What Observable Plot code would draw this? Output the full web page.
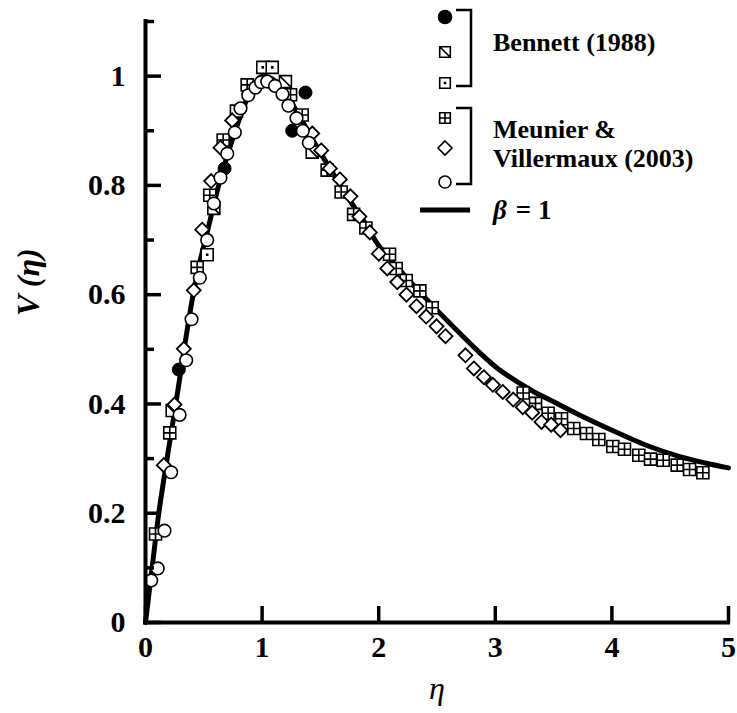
<!DOCTYPE html>
<html><head><meta charset="utf-8">
<script src="https://cdn.jsdelivr.net/npm/d3@7"></script>
<script src="https://cdn.jsdelivr.net/npm/@observablehq/plot@0.6"></script>
<style>
body{margin:0;background:#fff}
#wrap{position:relative;width:737px;height:713px}
#legend{position:absolute;left:0;top:0;pointer-events:none}
</style>
</head><body><div id="wrap"></div>
<script>
// ---- data ----
const curveEta = [0, 0.05, 0.114, 0.2, 0.26, 0.343, 0.4, 0.45, 0.53, 0.64, 0.77, 0.88, 0.95, 1.0, 1.05, 1.12, 1.2, 1.35, 1.5, 1.73, 1.87, 2.0, 2.16, 2.44, 2.73, 2.87, 3.02, 3.3, 3.5, 3.73, 4.02, 4.3, 4.59, 4.8, 5.0];
const curveV   = [0, 0.088, 0.2, 0.32, 0.4, 0.516, 0.59, 0.645, 0.715, 0.81, 0.9, 0.963, 0.99, 1.0, 0.998, 0.99, 0.97, 0.915, 0.86, 0.78, 0.735, 0.69, 0.65, 0.585, 0.522, 0.493, 0.465, 0.426, 0.404, 0.379, 0.35, 0.324, 0.303, 0.292, 0.283];

const bennettFilledEta = [0.286, 0.678, 1.258, 1.372];
const bennettFilledV   = [0.463, 0.831, 0.900, 0.970];
const bennettDiagEta = [0.229, 0.586, 1.200, 1.430];
const bennettDiagV   = [0.388, 0.758, 0.990, 0.861];
const bennettDotEta = [0.529, 0.780, 1.006, 1.087];
const bennettDotV   = [0.673, 0.936, 1.016, 1.016];

const meunierCrossEta = [0.086, 0.208, 0.443, 0.551, 0.666, 0.872, 1.244, 1.344, 1.558, 1.678, 1.785, 1.89, 2.093, 2.150, 2.236, 2.353, 2.459, 3.239, 3.345, 3.453, 3.568, 3.673, 3.782, 3.888, 4.008, 4.108, 4.231, 4.331, 4.440, 4.560, 4.666, 4.780];
const meunierCrossV   = [0.162, 0.347, 0.650, 0.782, 0.883, 0.984, 0.966, 0.929, 0.828, 0.788, 0.747, 0.722, 0.674, 0.648, 0.626, 0.607, 0.576, 0.420, 0.401, 0.383, 0.373, 0.355, 0.346, 0.335, 0.322, 0.317, 0.306, 0.299, 0.297, 0.288, 0.280, 0.274];
const meunierDiamondEta = [0.157, 0.249, 0.329, 0.414, 0.486, 0.563, 0.643, 0.743, 1.430, 1.507, 1.581, 1.667, 1.758, 1.835, 1.924, 2.001, 2.073, 2.159, 2.238, 2.324, 2.407, 2.496, 2.573, 2.744, 2.816, 2.902, 2.979, 3.064, 3.154, 3.236, 3.316, 3.396, 3.479, 3.559];
const meunierDiamondV   = [0.288, 0.399, 0.501, 0.608, 0.719, 0.808, 0.869, 0.919, 0.895, 0.864, 0.831, 0.811, 0.780, 0.743, 0.714, 0.675, 0.648, 0.623, 0.600, 0.579, 0.560, 0.542, 0.524, 0.489, 0.465, 0.449, 0.435, 0.422, 0.408, 0.394, 0.384, 0.367, 0.362, 0.352];
const meunierCircleEta = [0.049, 0.105, 0.163, 0.220, 0.292, 0.349, 0.395, 0.466, 0.529, 0.586, 0.643, 0.701, 0.766, 0.815, 0.881, 0.943, 0.991, 1.044, 1.111, 1.175, 1.226, 1.295, 1.349, 1.401];
const meunierCircleV   = [0.077, 0.099, 0.168, 0.275, 0.380, 0.480, 0.555, 0.631, 0.700, 0.767, 0.814, 0.858, 0.897, 0.941, 0.965, 0.979, 0.989, 0.990, 0.982, 0.967, 0.946, 0.923, 0.900, 0.878];

const xTicks = [0, 1, 2, 3, 4, 5];
const yMajorTicks = [0, 0.2, 0.4, 0.6, 0.8, 1];
const yMinorTicks = [0.1, 0.3, 0.5, 0.7, 0.9, 1.1];
const xTickLabels = ["0", "1", "2", "3", "4", "5"];
const yTickLabels = ["0", "0.2", "0.4", "0.6", "0.8", "1"];

const legendBennett = "Bennett (1988)";
const legendMeunier = ["Meunier &", "Villermaux (2003)"];
const legendCurve = "= 1";

// ---- helpers ----
const zip = (xs, ys) => xs.map((x, i) => ({x, y: ys[i]}));
const curve = zip(curveEta, curveV);

const rOf = size => Math.sqrt(size / Math.PI);
const symSquareDot = {draw(c, size) { const r = rOf(size); c.moveTo(-r,-r); c.lineTo(r,-r); c.lineTo(r,r); c.lineTo(-r,r); c.closePath();
  const d = 0.5; c.moveTo(-d,-d); c.lineTo(d,-d); c.lineTo(d,d); c.lineTo(-d,d); c.closePath(); }};
const symSquareDiag = {draw(c, size) { const r = rOf(size); c.moveTo(-r,-r); c.lineTo(r,-r); c.lineTo(r,r); c.lineTo(-r,r); c.closePath();
  c.moveTo(-r,-r); c.lineTo(r,r); }};
const symSquareCross = {draw(c, size) { const r = rOf(size); c.moveTo(-r,-r); c.lineTo(r,-r); c.lineTo(r,r); c.lineTo(-r,r); c.closePath();
  c.moveTo(0,-r); c.lineTo(0,r); c.moveTo(-r,0); c.lineTo(r,0); }};
const symDiamond = {draw(c, size) { const r = rOf(size); c.moveTo(0,-r); c.lineTo(r,0); c.lineTo(0,r); c.lineTo(-r,0); c.closePath(); }};
const symCircle = {draw(c, size) { const r = rOf(size); c.moveTo(r,0); c.arc(0,0,r,0,2*Math.PI); c.closePath(); }};

const font = "'Liberation Serif', 'Times New Roman', serif";

const plot = Plot.plot({
  width: 737, height: 713,
  marginLeft: 145, marginRight: 9, marginTop: 21, marginBottom: 91,
  x: {domain: [0, 5], axis: null},
  y: {domain: [0, 1.1], axis: null},
  style: {fontFamily: font, color: "black", background: "white", overflow: "visible"},
  marks: [
    Plot.line(curve, {x: "x", y: "y", curve: "catmull-rom", stroke: "black", strokeWidth: 5}),
    Plot.dot(zip(bennettFilledEta, bennettFilledV), {x: "x", y: "y", r: 6.5, fill: "black", stroke: "black", strokeWidth: 1}),
    Plot.dot(zip(bennettDiagEta, bennettDiagV), {x: "x", y: "y", r: 6, symbol: symSquareDiag, fill: "white", stroke: "black", strokeWidth: 1.6}),
    Plot.dot(zip(bennettDotEta, bennettDotV), {x: "x", y: "y", r: 6, symbol: symSquareDot, fill: "white", stroke: "black", strokeWidth: 1.6}),
    Plot.dot(zip(meunierCrossEta, meunierCrossV), {x: "x", y: "y", r: 6, symbol: symSquareCross, fill: "white", stroke: "black", strokeWidth: 1.6}),
    Plot.dot(zip(meunierDiamondEta, meunierDiamondV), {x: "x", y: "y", r: 7, symbol: symDiamond, fill: "white", stroke: "black", strokeWidth: 1.8}),
    Plot.dot(zip(meunierCircleEta, meunierCircleV), {x: "x", y: "y", r: 6.3, symbol: symCircle, fill: "white", stroke: "black", strokeWidth: 1.6}),
    // axis lines
    Plot.ruleY([0], {stroke: "black", strokeWidth: 4, strokeLinecap: "square"}),
    Plot.ruleX([0], {stroke: "black", strokeWidth: 4, strokeLinecap: "square"}),
    // inward ticks
    Plot.axisX(xTicks, {tickSize: -16, strokeWidth: 3.5, fill: "none", label: null}),
    Plot.axisY(yMajorTicks, {tickSize: -16, strokeWidth: 3.5, fill: "none", label: null}),
    Plot.axisY(yMinorTicks, {tickSize: -9, strokeWidth: 3.5, fill: "none", label: null}),
    // tick labels
    Plot.axisX(xTicks, {tickSize: 0, tickPadding: 13, fontSize: 30, fontWeight: "bold", label: null,
      tickFormat: d => xTickLabels[xTicks.indexOf(d)]}),
    Plot.axisY(yMajorTicks, {tickSize: 0, tickPadding: 20, fontSize: 30, fontWeight: "bold", label: null,
      tickFormat: d => yTickLabels[yMajorTicks.indexOf(d)]}),
    // axis titles
    Plot.text(["η"], {frameAnchor: "bottom", dy: 76, fontSize: 32, fontStyle: "italic", fill: "black"}),
    Plot.text(["V (η)"], {frameAnchor: "left", dx: -117, dy: -6, rotate: -90, fontSize: 32, fontStyle: "italic", fontWeight: "bold", fill: "black"})
  ]
});

const wrap = document.getElementById("wrap");
wrap.appendChild(plot);

// ---- legend overlay ----
const svg = d3.select(wrap).append("svg").attr("id", "legend").attr("width", 737).attr("height", 713)
  .style("font-family", font);
const symItems = [
  {sym: symCircle, r: 6.5, y: 17, fill: "black"},
  {sym: symSquareDiag, r: 5.3, y: 52, fill: "white"},
  {sym: symSquareDot, r: 5.3, y: 83, fill: "white"},
  {sym: symSquareCross, r: 5.3, y: 118, fill: "white"},
  {sym: symDiamond, r: 7, y: 148, fill: "white"},
  {sym: symCircle, r: 6, y: 182, fill: "white"}
];
for (const s of symItems) {
  svg.append("path").attr("transform", `translate(445,${s.y})`)
    .attr("d", d3.symbol(s.sym, Math.PI * s.r * s.r)())
    .attr("fill", s.fill).attr("stroke", "black").attr("stroke-width", 1.6);
}
svg.append("path").attr("d", "M456,10H471V86H456").attr("fill", "none").attr("stroke", "black").attr("stroke-width", 2.5);
svg.append("path").attr("d", "M456,108H471V184H456").attr("fill", "none").attr("stroke", "black").attr("stroke-width", 2.5);
svg.append("text").attr("x", 493).attr("y", 51).attr("font-size", 26).attr("font-weight", "bold").text(legendBennett);
svg.append("text").attr("x", 493).attr("y", 138).attr("font-size", 26).attr("font-weight", "bold").text(legendMeunier[0]);
svg.append("text").attr("x", 493).attr("y", 167).attr("font-size", 26).attr("font-weight", "bold").text(legendMeunier[1]);
svg.append("path").attr("d", "M420,210H470").attr("stroke", "black").attr("stroke-width", 5);
const t = svg.append("text").attr("x", 493).attr("y", 219).attr("font-size", 27).attr("font-weight", "bold");
t.append("tspan").attr("font-style", "italic").text("β");
t.append("tspan").attr("dx", 9).text(legendCurve);
</script></body></html>
